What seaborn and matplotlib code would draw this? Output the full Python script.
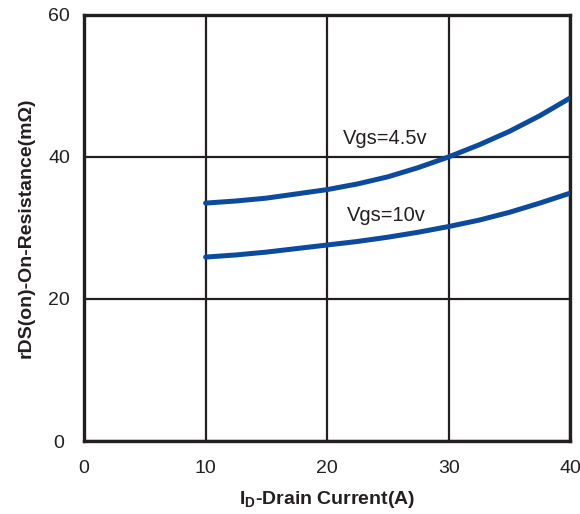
import numpy as np
import pandas as pd
import matplotlib
matplotlib.use("Agg")
import matplotlib.pyplot as plt
import seaborn as sns

# values
current = [10, 12.5, 15, 17.5, 20, 22.5, 25, 27.5, 30, 32.5, 35, 37.5, 40]
r_vgs45 = [33.5, 33.8, 34.2, 34.8, 35.4, 36.2, 37.2, 38.5, 40.0, 41.7, 43.6, 45.8, 48.3]
r_vgs10 = [25.9, 26.2, 26.6, 27.1, 27.6, 28.1, 28.7, 29.4, 30.2, 31.1, 32.2, 33.5, 34.9]
x_ticks = [0, 10, 20, 30, 40]
y_ticks = [0, 20, 40, 60]

df = pd.DataFrame({
    'current': current * 2,
    'r': r_vgs45 + r_vgs10,
    'vgs': ['Vgs=4.5v'] * len(current) + ['Vgs=10v'] * len(current),
})

sns.set_style("white")
plt.rcParams['font.family'] = ['Liberation Sans', 'DejaVu Sans']

fig = plt.figure(figsize=(5.8, 5.14), dpi=100)
ax = fig.add_axes([0.145, 0.142, 0.838, 0.829])

sns.lineplot(data=df, x='current', y='r', hue='vgs', palette=['#0b4a9c', '#0b4a9c'],
             linewidth=3.6, legend=False, ax=ax, zorder=3)

ax.set_xlim(0, 40)
ax.set_ylim(0, 60)
ax.set_xticks(x_ticks)
ax.set_yticks(y_ticks)
ax.tick_params(axis='x', length=0, labelsize=14, colors='#231f20', pad=14)
ax.tick_params(axis='y', length=0, labelsize=14, colors='#231f20', pad=18)
for lab in ax.get_yticklabels():
    lab.set_horizontalalignment('center')
ax.grid(True, color='#231f20', linewidth=1.6)
for s in ax.spines.values():
    s.set_color('#231f20')
    s.set_linewidth(2.4)

ax.text(24.8, 41.3, 'Vgs=4.5v', fontsize=14.5, ha='center', va='bottom', color='#231f20')
ax.text(24.9, 30.4, 'Vgs=10v', fontsize=14.5, ha='center', va='bottom', color='#231f20')

ax.set_xlabel(r'I$_\mathregular{D}$-Drain Current(A)', fontsize=14, fontweight='bold',
              labelpad=8, color='#231f20')
ax.set_ylabel('rDS(on)-On-Resistance(mΩ)', fontsize=14, fontweight='bold',
              labelpad=10, color='#231f20')

fig.savefig('out.png', dpi=100)
